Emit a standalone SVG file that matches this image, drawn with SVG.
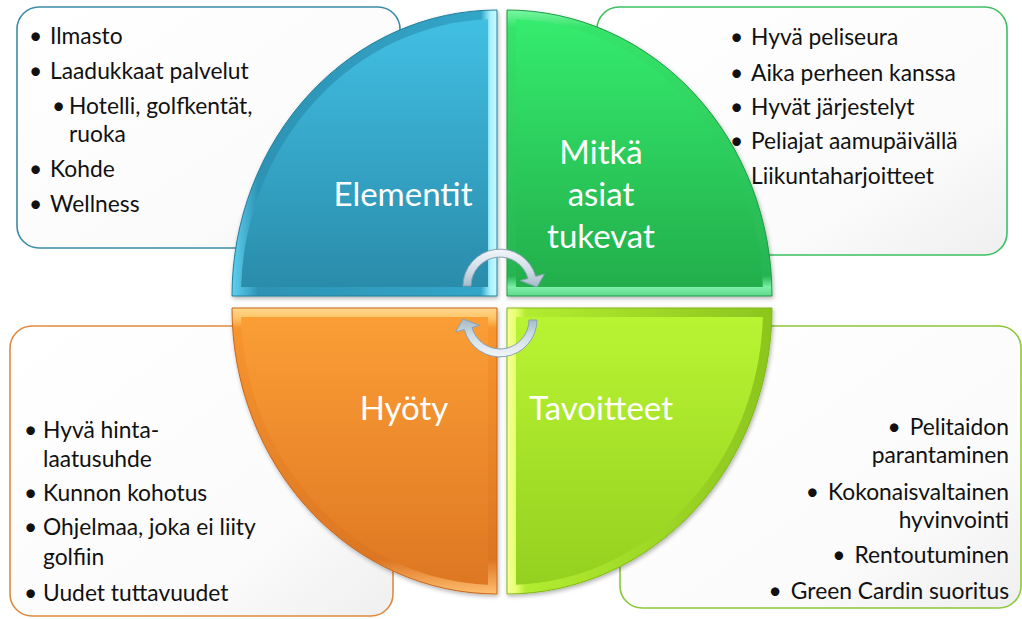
<svg xmlns="http://www.w3.org/2000/svg" width="1022" height="619" viewBox="0 0 1022 619">
<style>
.box{stroke-width:1.6}
.t{font-family:Lato,"Liberation Sans",sans-serif;font-size:22.8px;fill:#111}
.lbl{font-family:Lato,"Liberation Sans",sans-serif;font-size:33px;fill:#fff;text-anchor:middle}
.arrow{fill:url(#gArrow);stroke:#8aa2b3;stroke-width:1}
</style>
<defs>
<linearGradient id="gBox" x1="0" y1="0" x2="1" y2="1"><stop offset="0" stop-color="#ffffff"/><stop offset="0.7" stop-color="#fbfbfb"/><stop offset="1" stop-color="#efefef"/></linearGradient>
<linearGradient id="gBlue" x1="0" y1="0" x2="0" y2="1"><stop offset="0" stop-color="#41bfe3"/><stop offset="1" stop-color="#2a8cab"/></linearGradient>
<linearGradient id="gBlueB" x1="0" y1="0" x2="1" y2="0"><stop offset="0" stop-color="#5fd0f0"/><stop offset="0.1" stop-color="#2d93b4"/><stop offset="0.94" stop-color="#33a6c8"/><stop offset="0.975" stop-color="#a8f2ff"/><stop offset="1" stop-color="#c8faff"/></linearGradient>
<linearGradient id="gGreen" x1="0" y1="0" x2="0" y2="1"><stop offset="0" stop-color="#35ec6e"/><stop offset="1" stop-color="#22ae4b"/></linearGradient>
<linearGradient id="gGreenB" x1="0" y1="0" x2="0" y2="1"><stop offset="0" stop-color="#7af7a4"/><stop offset="0.06" stop-color="#35e46a"/><stop offset="0.93" stop-color="#27b452"/><stop offset="0.97" stop-color="#7df0a8"/><stop offset="1" stop-color="#5fd68a"/></linearGradient>
<linearGradient id="gOrange" x1="0" y1="0" x2="0" y2="1"><stop offset="0" stop-color="#fb9e36"/><stop offset="1" stop-color="#de7722"/></linearGradient>
<linearGradient id="gOrangeB" x1="0" y1="0" x2="0" y2="1"><stop offset="0" stop-color="#ffd88c"/><stop offset="0.035" stop-color="#ffc468"/><stop offset="0.07" stop-color="#f7952f"/><stop offset="0.88" stop-color="#dc7623"/><stop offset="1" stop-color="#ffbe70"/></linearGradient>
<linearGradient id="gLime" x1="0" y1="0" x2="0" y2="1"><stop offset="0" stop-color="#b9f433"/><stop offset="1" stop-color="#94d01f"/></linearGradient>
<linearGradient id="gLimeB" x1="0" y1="0" x2="1" y2="0"><stop offset="0" stop-color="#f6ff96"/><stop offset="0.035" stop-color="#e6ff6c"/><stop offset="0.07" stop-color="#b2ec30"/><stop offset="1" stop-color="#8cc51e"/></linearGradient>
<linearGradient id="gArrow" x1="0" y1="0" x2="0" y2="1"><stop offset="0" stop-color="#f2f6f9"/><stop offset="0.6" stop-color="#ccdae4"/><stop offset="1" stop-color="#a3b9c8"/></linearGradient>
<filter id="sh" x="-5%" y="-5%" width="110%" height="110%"><feDropShadow dx="1" dy="2" stdDeviation="2" flood-color="#000" flood-opacity="0.3"/></filter>
</defs>

<g id="box-elementit">
<rect class="box" x="17" y="7" width="383" height="241" rx="22" fill="url(#gBox)" stroke="#3b8ca8"/>
<text class="t"><tspan x="29" y="44">•</tspan><tspan x="50" y="44">Ilmasto</tspan></text>
<text class="t"><tspan x="29" y="79">•</tspan><tspan x="50" y="79">Laadukkaat palvelut</tspan></text>
<text class="t"><tspan x="52" y="114">•</tspan><tspan x="69" y="114">Hotelli, golfkentät,</tspan></text>
<text class="t"><tspan x="69" y="142">ruoka</tspan></text>
<text class="t"><tspan x="29" y="177">•</tspan><tspan x="50" y="177">Kohde</tspan></text>
<text class="t"><tspan x="29" y="212">•</tspan><tspan x="50" y="212">Wellness</tspan></text>
</g>

<g id="box-tukevat">
<rect class="box" x="597" y="7" width="410" height="248" rx="22" fill="url(#gBox)" stroke="#3cc060"/>
<text class="t"><tspan x="730" y="45">•</tspan><tspan x="751" y="45">Hyvä peliseura</tspan></text>
<text class="t"><tspan x="730" y="81">•</tspan><tspan x="751" y="81">Aika perheen kanssa</tspan></text>
<text class="t"><tspan x="730" y="115">•</tspan><tspan x="751" y="115">Hyvät järjestelyt</tspan></text>
<text class="t"><tspan x="730" y="149">•</tspan><tspan x="751" y="149">Peliajat aamupäivällä</tspan></text>
<text class="t"><tspan x="751" y="184">Liikuntaharjoitteet</tspan></text>
</g>

<g id="box-hyoty">
<rect class="box" x="10" y="326" width="383" height="290" rx="22" fill="url(#gBox)" stroke="#e08a40"/>
<text class="t"><tspan x="24" y="438">•</tspan><tspan x="43" y="438">Hyvä hinta-</tspan></text>
<text class="t"><tspan x="43" y="467">laatusuhde</tspan></text>
<text class="t"><tspan x="24" y="501">•</tspan><tspan x="43" y="501">Kunnon kohotus</tspan></text>
<text class="t"><tspan x="24" y="535">•</tspan><tspan x="43" y="535">Ohjelmaa, joka ei liity</tspan></text>
<text class="t"><tspan x="43" y="565">golfiin</tspan></text>
<text class="t"><tspan x="24" y="601">•</tspan><tspan x="43" y="601">Uudet tuttavuudet</tspan></text>
</g>

<g id="box-tavoitteet">
<rect class="box" x="620" y="326" width="401" height="282" rx="22" fill="url(#gBox)" stroke="#8ac838"/>
<text class="t" text-anchor="end" x="1009" y="435"><tspan>•</tspan><tspan dx="9">Pelitaidon</tspan></text>
<text class="t" text-anchor="end" x="1009" y="463">parantaminen</text>
<text class="t" text-anchor="end" x="1009" y="500"><tspan>•</tspan><tspan dx="9">Kokonaisvaltainen</tspan></text>
<text class="t" text-anchor="end" x="1009" y="528">hyvinvointi</text>
<text class="t" text-anchor="end" x="1009" y="563"><tspan>•</tspan><tspan dx="9">Rentoutuminen</tspan></text>
<text class="t" text-anchor="end" x="1009" y="599"><tspan>•</tspan><tspan dx="9">Green Cardin suoritus</tspan></text>
</g>

<g id="q-elementit">
<path d="M497,296 L232,296 A265 286 0 0 1 497,10 Z" fill="url(#gBlueB)" stroke="#247e9a" filter="url(#sh)"/>
<path d="M488,287 L241.1,287 A256 277 0 0 1 488,19.2 Z" fill="url(#gBlue)"/>
<text class="lbl" x="403" y="206">Elementit</text>
</g>

<g id="q-tukevat">
<path d="M507,296 L507,10 A265 286 0 0 1 772,296 Z" fill="url(#gGreenB)" stroke="#1f9a45" filter="url(#sh)"/>
<path d="M516,287 L516,19.2 A256 277 0 0 1 762.9,287 Z" fill="url(#gGreen)"/>
<text class="lbl" x="601" y="164">Mitkä</text>
<text class="lbl" x="601" y="206">asiat</text>
<text class="lbl" x="601" y="248">tukevat</text>
</g>

<g id="q-hyoty">
<path d="M497,308 L497,594 A265 286 0 0 1 232,308 Z" fill="url(#gOrangeB)" stroke="#c9661b" filter="url(#sh)"/>
<path d="M488,317 L488,584.8 A256 277 0 0 1 241.1,317 Z" fill="url(#gOrange)"/>
<text class="lbl" x="404" y="420">Hyöty</text>
</g>

<g id="q-tavoitteet">
<path d="M507,308 L772,308 A265 286 0 0 1 507,594 Z" fill="url(#gLimeB)" stroke="#80b818" filter="url(#sh)"/>
<path d="M516,317 L762.9,317 A256 277 0 0 1 516,584.8 Z" fill="url(#gLime)"/>
<text class="lbl" x="601" y="420">Tavoitteet</text>
</g>

<g id="connectors">
<path id="arr" class="arrow" d="M463,286 A37 37 0 0 1 535.7,276.4 L544.4,274.1 L537,287 L520.3,280.6 L528,278.5 A29 29 0 0 0 471,286 Z"/>
<use href="#arr" transform="rotate(180 500 303)"/>
</g>
</svg>
